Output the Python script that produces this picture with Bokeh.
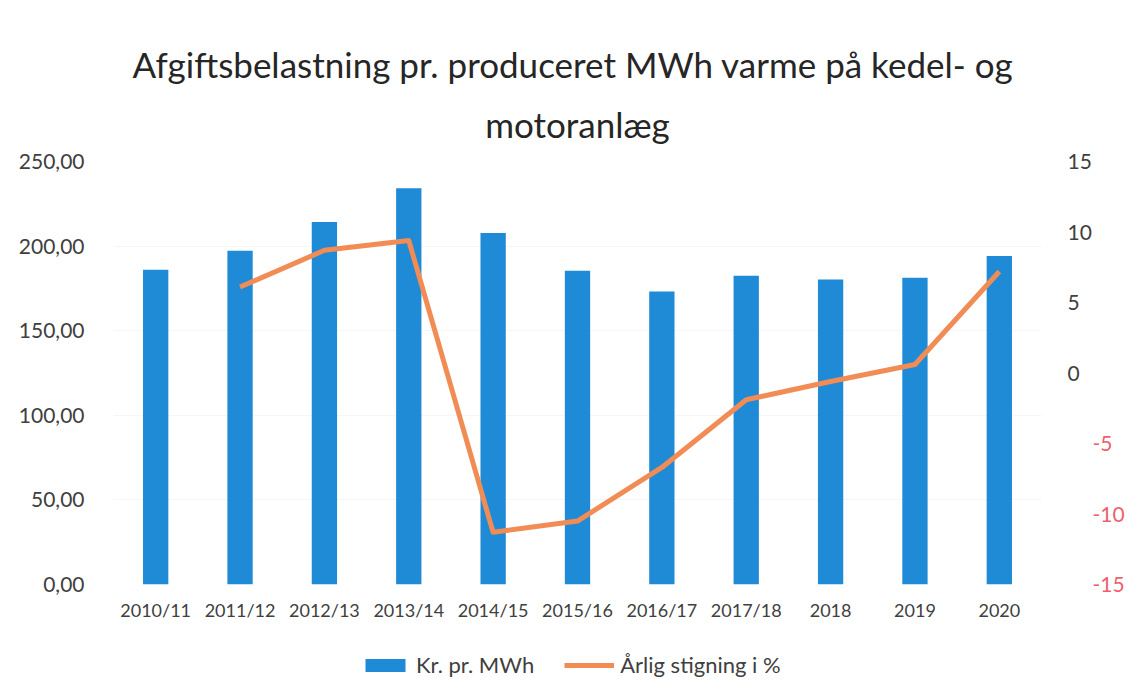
from bokeh.plotting import figure
from bokeh.layouts import column
from bokeh.models import (Range1d, LinearAxis, FixedTicker, Legend, LegendItem, Title)
from bokeh.embed import file_html
from bokeh.resources import INLINE

# ---- data ----
categories = ["2010/11", "2011/12", "2012/13", "2013/14", "2014/15", "2015/16",
              "2016/17", "2017/18", "2018", "2019", "2020"]
kr_per_mwh = [186.0, 197.2, 214.2, 234.2, 207.7, 185.4, 173.1, 182.5, 180.2, 181.3, 194.2]
pct_categories = categories[1:]
aarlig_stigning = [6.1, 8.7, 9.4, -11.3, -10.5, -6.7, -1.9, -0.6, 0.6, 7.2]
left_ticks = [0, 50, 100, 150, 200, 250]
right_ticks = [-15, -10, -5, 0, 5, 10, 15]
title_lines = ["Afgiftsbelastning pr. produceret MWh varme  på kedel- og", "motoranlæg"]
legend_labels = ["Kr. pr. MWh", "Årlig stigning i %"]

FONT = "Lato"
BLUE = "#1F8AD6"
ORANGE = "#F28C55"
GREY = "#404040"
RED = "#EF5F6E"
NAN = float("nan")

x_bar = list(range(len(categories)))
x_pct = [categories.index(c) for c in pct_categories]

p = figure(width=1127, height=623, output_backend="svg", toolbar_location=None,
           x_range=Range1d(-0.5, len(categories) - 0.5),
           y_range=Range1d(left_ticks[0], left_ticks[-1]),
           min_border_left=113, min_border_right=61, min_border_top=161,
           min_border_bottom=36)
p.outline_line_color = None
p.background_fill_color = "white"
p.border_fill_color = "white"

p.extra_y_ranges = {"pct": Range1d(right_ticks[0], right_ticks[-1])}

# titles (closest to the frame first)
t2 = Title(text=title_lines[1], align="center", text_font=FONT, text_font_size="35px",
           text_font_style="normal", text_color="#262626", standoff=33)
t1 = Title(text=title_lines[0], align="center", text_font=FONT, text_font_size="35px",
           text_font_style="normal", text_color="#262626", standoff=0)
p.add_layout(t2, "above")
p.add_layout(t1, "above")

bars = p.vbar(x=x_bar, top=kr_per_mwh, width=0.3, fill_color=BLUE, line_color=None)
line = p.line(x=x_pct, y=aarlig_stigning, y_range_name="pct", line_color=ORANGE,
              line_width=5, line_join="round")

# grid
p.xgrid.grid_line_color = None
p.ygrid.ticker = FixedTicker(ticks=left_ticks)
p.ygrid.grid_line_color = "#F6F6F6"

# x axis
xa = p.xaxis[0]
xa.ticker = FixedTicker(ticks=x_bar)
xa.major_label_overrides = {i: c for i, c in enumerate(categories)}
xa.axis_line_color = None
xa.major_tick_line_color = None
xa.minor_tick_line_color = None
xa.major_tick_out = 6
xa.major_label_standoff = 8
xa.major_label_text_font = FONT
xa.major_label_text_font_size = "18px"
xa.major_label_text_color = GREY

# left axis
ya = p.yaxis[0]
ya.ticker = FixedTicker(ticks=left_ticks)
ya.major_label_overrides = {t: f"{t:.2f}".replace(".", ",") for t in left_ticks}
ya.axis_line_color = None
ya.major_tick_line_color = None
ya.minor_tick_line_color = None
ya.major_tick_out = 0
ya.major_label_standoff = 29
ya.major_label_text_font = FONT
ya.major_label_text_font_size = "21px"
ya.major_label_text_color = GREY


def right_axis(show_negative, color, standoff, tick_out):
    ax = LinearAxis(y_range_name="pct", ticker=FixedTicker(ticks=right_ticks))
    ax.major_label_overrides = {t: (str(t) if (t < 0) == show_negative else "")
                                for t in right_ticks}
    ax.axis_line_color = None
    ax.major_tick_line_color = None
    ax.minor_tick_line_color = None
    ax.major_tick_out = tick_out
    ax.major_label_standoff = standoff
    ax.major_label_text_font = FONT
    ax.major_label_text_font_size = "21px"
    ax.major_label_text_color = color
    return ax


p.add_layout(right_axis(False, GREY, 20, 6), "right")
p.add_layout(right_axis(True, RED, -2, 0), "right")

# legend strip below the chart
pl = figure(width=1127, height=55, output_backend="svg", toolbar_location=None,
            x_range=Range1d(0, 1), y_range=Range1d(0, 1),
            x_axis_type=None, y_axis_type=None,
            min_border_left=0, min_border_right=0, min_border_top=0, min_border_bottom=0)
pl.outline_line_color = None
pl.xgrid.grid_line_color = None
pl.ygrid.grid_line_color = None
lb = pl.vbar(x=[NAN], top=[NAN], width=0.3, fill_color=BLUE, line_color=None)
ll = pl.line(x=[NAN, NAN], y=[NAN, NAN], line_color=ORANGE, line_width=5)

legend = Legend(items=[LegendItem(label=legend_labels[0], renderers=[lb]),
                       LegendItem(label=legend_labels[1], renderers=[ll])],
                orientation="horizontal", location=(247, 0), margin=0,
                glyph_width=50, glyph_height=16, label_standoff=6, spacing=30,
                padding=0, label_text_font=FONT, label_text_font_size="22px",
                label_text_color=GREY, border_line_color=None,
                background_fill_alpha=0)
pl.add_layout(legend, "center")

open("out.html", "w").write(file_html(column(p, pl), INLINE))
